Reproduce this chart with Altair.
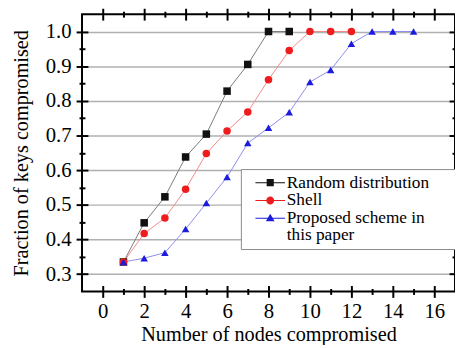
import altair as alt
import pandas as pd

# ---- data ----
series_names = ["Random distribution", "Shell", "Proposed scheme in this paper"]

x_random = [1, 2, 3, 4, 5, 6, 7, 8, 9]
y_random = [0.335, 0.448, 0.523, 0.638, 0.704, 0.828, 0.905, 1.0, 1.0]

x_shell = [1, 2, 3, 4, 5, 6, 7, 8, 9, 10, 11, 12]
y_shell = [0.335, 0.417, 0.462, 0.545, 0.648, 0.713, 0.768, 0.861, 0.945, 1.0, 1.0, 1.0]

x_prop = [1, 2, 3, 4, 5, 6, 7, 8, 9, 10, 11, 12, 13, 14, 15]
y_prop = [0.335, 0.346, 0.362, 0.43, 0.505, 0.58, 0.678, 0.722, 0.767, 0.854, 0.889, 0.965, 1.0, 1.0, 1.0]

x_major = [0, 2, 4, 6, 8, 10, 12, 14, 16]
x_minor = [1, 3, 5, 7, 9, 11, 13, 15]
y_major = [0.3, 0.4, 0.5, 0.6, 0.7, 0.8, 0.9, 1.0]
y_minor = [0.35, 0.45, 0.55, 0.65, 0.75, 0.85, 0.95]

rows = []
for name, xs, ys in [(series_names[0], x_random, y_random),
                     (series_names[1], x_shell, y_shell),
                     (series_names[2], x_prop, y_prop)]:
    for xv, yv in zip(xs, ys):
        rows.append({"nodes": xv, "frac": yv, "series": name, "label": name})
df = pd.DataFrame(rows)

FONT = "Liberation Serif"
xscale = alt.Scale(domain=[-1, 17], nice=False, zero=False)
yscale = alt.Scale(domain=[0.25, 1.05], nice=False, zero=False)

line_colors = ["#7a7a7a", "#f08a8a", "#8c8cf0"]
mark_colors = ["#111111", "#ee1c1c", "#1c1cdd"]

def ax(orient, values, size, labels=False, title=None, **kw):
    d = dict(orient=orient, values=values, tickSize=size, offset=-size / 2,
             tickColor="black", tickWidth=2, domain=False, grid=False,
             labels=labels, ticks=True)
    if labels:
        d.update(labelFont=FONT, labelFontSize=21, labelColor="black")
    if title:
        d.update(title=title, titleFont=FONT, titleFontSize=20.5,
                 titleFontWeight="normal", titleColor="black")
    else:
        d.update(title=None)
    d.update(kw)
    return alt.Axis(**d)

base = alt.Chart(df)

lines = base.mark_line(strokeWidth=1).encode(
    x=alt.X("nodes:Q", scale=xscale,
            axis=ax("bottom", x_major, 12, labels=True,
                    title="Number of nodes compromised",
                    labelPadding=3, titlePadding=4)),
    y=alt.Y("frac:Q", scale=yscale,
            axis=ax("left", y_major, 12, labels=True,
                    title="Fraction of keys compromised",
                    labelPadding=5, titlePadding=14, format=".1f")),
    color=alt.Color("series:N", scale=alt.Scale(domain=series_names, range=line_colors),
                    legend=None),
    detail="series:N",
)

points = base.mark_point(filled=True, opacity=1, strokeWidth=0).encode(
    x=alt.X("nodes:Q", scale=xscale, axis=ax("bottom", x_minor, 6)),
    y=alt.Y("frac:Q", scale=yscale, axis=ax("left", y_minor, 6)),
    shape=alt.Shape("series:N", scale=alt.Scale(domain=series_names,
                    range=["square", "circle", "triangle-up"]), legend=None),
    fill=alt.Fill("series:N", scale=alt.Scale(domain=series_names, range=mark_colors),
                  legend=None),
    size=alt.value(58),
)

bar = "M-3.75,-0.13H3.75V0.13H-3.75Z "
legend_paths = [
    bar + "M-0.9,-0.9H0.9V0.9H-0.9Z",
    bar + "M1,0A1,1,0,1,1,-1,0A1,1,0,1,1,1,0Z",
    bar + "M0,-1.15L1.1,0.75L-1.1,0.75Z",
]

# non-breaking spaces kept from trimming by a trailing zero-width space
NB = "\u00a0" * 5 + "\u200b"
legend = alt.Legend(
    orient="none", legendX=161, legendY=157, title=None,
    fillColor="white", strokeColor="#8a8a8a", padding=5,
    labelFont=FONT, labelFontSize=17.5, labelColor="black",
    symbolSize=64, symbolStrokeWidth=0, symbolOffset=16, labelOffset=8,
    rowPadding=-2, labelLimit=400,
    labelExpr=("datum.label == 'Proposed scheme in this paper' ? "
               "['Proposed scheme in', 'this paper'] : "
               "(datum.label == 'Random distribution' ? datum.label + '" + NB + "' : datum.label)"),
)

legend_layer = base.mark_point(filled=True, opacity=1).encode(
    x=alt.X("nodes:Q", scale=xscale, axis=ax("top", x_major, 12)),
    y=alt.Y("frac:Q", scale=yscale, axis=ax("right", y_major, 12)),
    shape=alt.Shape("label:N", scale=alt.Scale(domain=series_names, range=legend_paths),
                    legend=legend),
    fill=alt.Fill("label:N", scale=alt.Scale(domain=series_names, range=mark_colors),
                  legend=legend),
).transform_filter("false")

minor_layer = base.mark_point(opacity=0).encode(
    x=alt.X("nodes:Q", scale=xscale, axis=ax("top", x_minor, 6)),
    y=alt.Y("frac:Q", scale=yscale, axis=ax("right", y_minor, 6)),
).transform_filter("false")

grid_layer = base.mark_point(opacity=0).encode(
    x=alt.X("nodes:Q", scale=xscale, axis=None),
    y=alt.Y("frac:Q", scale=yscale,
            axis=alt.Axis(orient="left", values=y_major, grid=True, gridColor="#b0b0b0",
                          gridWidth=1.5, ticks=False, labels=False, domain=False,
                          title=None)),
).transform_filter("false")

chart = alt.layer(grid_layer, lines, points, legend_layer, minor_layer).resolve_axis(
    x="independent", y="independent"
).resolve_scale(
    shape="independent", fill="independent"
).properties(
    width=378, height=281,
    autosize=alt.AutoSizeParams(type="none"),
    padding={"left": 75, "top": 4, "right": 0, "bottom": 52},
).configure(
    view=alt.ViewConfig(stroke="black", strokeWidth=2),
    style={"guide-label": {"lineHeight": 17}},
)

chart.save("out.html", embed_options={"renderer": "svg", "actions": False})
